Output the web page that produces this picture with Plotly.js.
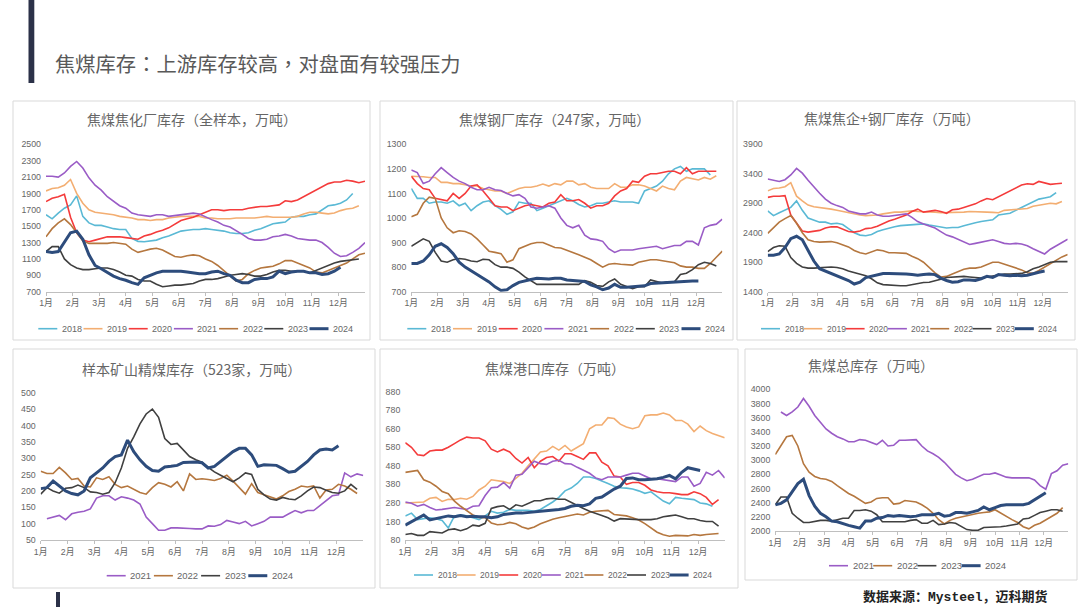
<!DOCTYPE html>
<html><head><meta charset="utf-8">
<script src="https://cdn.plot.ly/plotly-3.0.1.min.js"></script>
<style>html,body{margin:0;padding:0;background:#fff;}#chart{width:1080px;height:607px;}</style>
</head><body><div id="chart"></div>
<script>
// ---------- tick labels / categories ----------
const months = ['1月','2月','3月','4月','5月','6月','7月','8月','9月','10月','11月','12月'];
const pageTitle = '焦煤库存：上游库存较高，对盘面有较强压力';
const sourceNote = '数据来源：Mysteel，迈科期货';

// ---------- panel 1: 焦煤焦化厂库存（全样本，万吨）, weekly ----------
const cokePlant2018 = [1640,1590,1660,1720,1760,1870,1620,1540,1510,1510,1490,1470,1460,1460,1350,1315,1310,1320,1330,1360,1380,1410,1440,1450,1460,1460,1470,1460,1450,1440,1420,1410,1410,1420,1450,1470,1500,1530,1540,1550,1610,1620,1620,1640,1650,1700,1750,1760,1780,1820,1900];
const cokePlant2019 = [1930,1960,1970,2000,2070,1900,1780,1700,1670,1660,1650,1640,1620,1610,1600,1580,1580,1570,1580,1580,1600,1610,1620,1620,1620,1620,1600,1600,1590,1590,1590,1600,1600,1600,1600,1610,1620,1610,1610,1610,1610,1620,1650,1670,1670,1660,1650,1660,1690,1710,1720,1750];
const cokePlant2020 = [1800,1840,1860,1890,1610,1420,1330,1310,1330,1350,1370,1370,1370,1360,1350,1340,1380,1400,1430,1450,1480,1530,1570,1590,1610,1640,1670,1700,1700,1690,1700,1700,1700,1720,1730,1740,1740,1750,1760,1810,1800,1820,1860,1910,1940,1980,2020,2040,2040,2060,2050,2030,2050];
const cokePlant2021 = [2110,2110,2100,2150,2230,2290,2210,2090,2000,1940,1860,1800,1750,1720,1660,1640,1630,1620,1640,1640,1620,1630,1640,1650,1660,1650,1610,1580,1550,1510,1490,1450,1400,1350,1330,1330,1340,1370,1380,1400,1380,1350,1340,1330,1330,1300,1240,1170,1130,1140,1180,1230,1300];
const cokePlant2022 = [1370,1470,1540,1590,1520,1420,1320,1290,1290,1290,1290,1300,1290,1280,1220,1180,1200,1220,1230,1210,1170,1130,1120,1140,1150,1140,1100,1070,1020,960,890,830,850,920,960,990,1000,1010,1040,1080,1080,1050,1020,990,940,930,960,990,1020,1050,1100,1150,1170];
const cokePlant2023 = [1190,1250,1250,1100,1030,990,970,970,980,990,990,970,940,900,890,850,830,830,790,760,770,780,780,790,800,830,850,850,860,880,900,910,920,910,890,890,910,940,960,960,950,950,950,930,960,990,1020,1050,1070,1080,1090,1100];
const cokePlant2024 = [1190,1180,1190,1300,1420,1440,1340,1150,1020,980,930,890,860,840,810,790,870,900,930,950,950,950,950,940,930,920,920,940,950,920,900,840,810,810,850,860,860,880,950,920,940,950,950,930,930,910,920,950,1000];

// ---------- panel 2: 焦煤钢厂库存（247家，万吨） ----------
const steelMill2018 = [1120,1080,1080,1060,1065,1065,1060,1070,1050,1060,1030,1050,1065,1070,1050,1035,1015,1025,1065,1060,1060,1030,1040,1050,1060,1070,1080,1070,1055,1045,1050,1060,1060,1065,1070,1065,1065,1065,1060,1110,1120,1130,1150,1180,1200,1210,1190,1200,1200,1200,1175];
const steelMill2019 = [1170,1170,1168,1165,1165,1145,1145,1140,1140,1135,1130,1130,1120,1115,1110,1110,1100,1110,1120,1125,1125,1130,1138,1130,1140,1135,1150,1150,1135,1140,1125,1120,1120,1120,1140,1125,1125,1135,1135,1130,1120,1110,1130,1120,1115,1150,1165,1160,1155,1165,1158,1172];
const steelMill2020 = [1170,1140,1120,1115,1080,1075,1070,1100,1080,1100,1130,1135,1110,1080,1050,1045,1045,1030,1040,1050,1055,1050,1045,1060,1065,1095,1070,1070,1075,1060,1040,1050,1050,1060,1090,1110,1120,1150,1145,1170,1180,1180,1185,1190,1190,1180,1205,1180,1190,1190,1190,1190];
const steelMill2021 = [1195,1185,1140,1150,1180,1205,1185,1165,1150,1140,1125,1115,1115,1125,1115,1112,1100,1090,1095,1080,1045,1040,1045,1050,1040,1000,970,960,970,930,915,912,905,875,860,870,870,870,875,878,882,885,875,880,888,888,905,905,890,960,970,975,995];
const steelMill2022 = [1005,1015,1060,1085,1080,1000,960,940,948,945,935,915,890,865,860,855,820,830,875,885,895,900,900,890,880,878,870,860,850,840,830,815,800,812,815,812,810,808,820,825,830,830,825,822,818,805,800,800,795,795,815,840,865];
const steelMill2023 = [885,900,915,905,860,825,820,830,835,832,825,822,832,830,810,800,800,795,780,760,745,730,730,730,730,728,728,728,730,745,738,725,722,740,752,730,720,712,720,720,748,740,735,740,740,770,775,790,810,820,815,805];
const steelMill2024 = [815,815,825,850,885,895,880,855,820,800,785,770,758,740,720,705,708,725,738,745,750,755,752,752,755,755,748,745,745,742,728,720,708,715,730,718,718,720,722,724,733,735,735,738,740,742,745,744,744];

// ---------- panel 3: 焦煤焦企+钢厂库存（万吨） ----------
const cokeSteel2018 = [2770,2690,2740,2790,2830,2940,2780,2650,2610,2580,2580,2550,2560,2540,2470,2400,2360,2350,2370,2420,2450,2480,2500,2520,2530,2540,2545,2550,2530,2510,2490,2480,2490,2490,2520,2550,2570,2590,2610,2620,2700,2720,2730,2780,2830,2880,2930,2970,2990,3010,3080];
const cokeSteel2019 = [3110,3150,3160,3180,3250,3020,2940,2870,2840,2830,2820,2800,2780,2760,2730,2710,2700,2690,2690,2700,2720,2740,2750,2750,2760,2770,2760,2760,2750,2750,2740,2740,2740,2745,2750,2760,2760,2755,2750,2745,2740,2780,2790,2800,2800,2810,2850,2870,2880,2900,2890,2930];
const cokeSteel2020 = [3000,3020,3020,3030,2700,2570,2430,2410,2420,2440,2480,2500,2500,2460,2420,2410,2430,2470,2480,2510,2560,2600,2630,2660,2700,2760,2800,2750,2760,2780,2760,2730,2790,2800,2830,2860,2890,2940,2980,2960,3010,3060,3100,3150,3210,3230,3220,3270,3250,3220,3230,3240];
const cokeSteel2021 = [3310,3295,3270,3300,3380,3490,3410,3290,3170,3070,2970,2900,2860,2830,2770,2740,2720,2720,2750,2700,2680,2680,2690,2700,2720,2660,2590,2550,2520,2480,2420,2360,2330,2290,2240,2200,2220,2240,2250,2280,2250,2220,2210,2220,2210,2180,2130,2080,2040,2120,2180,2230,2290];
const cokeSteel2022 = [2390,2490,2580,2640,2690,2560,2400,2280,2250,2240,2250,2250,2230,2200,2160,2100,2060,2040,2080,2110,2095,2060,2060,2060,2050,2000,1960,1900,1810,1720,1650,1660,1700,1740,1780,1800,1800,1820,1860,1900,1900,1870,1840,1810,1770,1720,1710,1760,1820,1880,1940,1990,2030];
const cokeSteel2023 = [2080,2150,2180,2170,1980,1880,1820,1800,1800,1810,1820,1820,1810,1790,1750,1720,1700,1670,1620,1550,1520,1510,1500,1500,1500,1520,1540,1555,1560,1580,1610,1640,1650,1660,1660,1650,1640,1630,1650,1670,1680,1700,1700,1700,1710,1740,1790,1820,1860,1900,1910,1910,1910];
const cokeSteel2024 = [2020,2020,2040,2150,2300,2340,2280,2100,1920,1790,1750,1700,1660,1630,1590,1530,1560,1640,1660,1690,1710,1710,1710,1700,1700,1690,1680,1690,1700,1690,1630,1590,1560,1570,1600,1600,1590,1620,1660,1640,1690,1680,1670,1680,1670,1680,1710,1730,1750];

// ---------- panel 4: 样本矿山精煤库存（523家，万吨） ----------
const mine2021 = [null,115,120,125,112,130,135,138,145,178,185,185,172,182,178,172,160,120,100,80,80,87,87,87,85,84,84,93,92,97,110,105,100,107,93,100,107,120,120,120,130,140,133,140,140,155,168,185,188,255,243,252,247];
const mine2022 = [260,253,253,272,255,235,238,215,212,240,235,243,220,210,215,205,195,190,210,225,220,212,228,200,252,235,237,235,232,238,248,230,210,190,222,195,188,182,175,185,198,205,215,212,215,178,203,205,220,215,205,192];
const mine2023 = [190,210,200,193,208,210,218,210,197,195,190,195,225,270,330,365,405,435,450,425,360,342,345,325,305,295,288,272,258,248,238,228,240,255,250,205,188,175,172,180,175,173,185,200,212,210,202,195,193,200,220,205];
const mine2024 = [207,210,230,215,200,192,188,200,240,255,270,290,305,310,355,320,295,275,262,260,273,275,278,287,288,288,286,270,275,290,305,320,330,330,310,275,280,280,278,268,257,260,275,290,310,325,328,325,338];

// ---------- panel 5: 焦煤港口库存（万吨） ----------
const port2018 = [210,225,190,195,200,195,185,145,210,215,210,200,190,210,235,225,230,245,240,240,240,235,245,265,285,310,345,360,385,420,420,412,400,385,370,362,360,355,345,332,340,315,290,275,310,305,300,298,280,275,262];
const port2019 = [280,282,285,285,305,310,288,300,298,305,300,315,350,370,405,400,395,385,410,440,480,520,555,560,585,565,590,560,580,600,680,700,700,740,735,705,690,680,690,750,755,755,765,755,725,725,705,665,695,670,655,645,632];
const port2020 = [605,580,540,535,560,565,565,580,600,620,635,630,630,615,570,555,570,555,520,495,525,470,505,525,530,505,545,545,530,515,550,550,500,480,425,420,380,390,390,375,350,340,335,335,330,325,325,340,330,310,272,298];
const port2021 = [285,278,262,272,255,242,245,250,255,250,245,262,265,320,362,365,390,360,430,435,470,505,492,488,505,510,492,490,472,455,440,415,405,420,420,420,430,440,440,425,410,410,405,398,395,420,420,370,385,445,430,455,415];
const port2022 = [445,448,455,405,392,370,342,330,290,262,238,215,202,200,172,162,165,175,168,150,140,150,168,182,192,200,208,212,220,215,230,235,236,240,218,215,210,200,188,168,145,122,108,100,105,105,102,110,105,110,112,115];
const port2023 = [110,115,105,105,125,120,118,135,140,130,140,160,155,170,250,260,265,245,270,262,275,292,292,302,305,300,300,282,265,250,235,225,212,200,182,195,192,190,190,190,190,195,205,210,215,205,195,195,185,180,180,155];
const port2024 = [160,178,198,215,188,195,205,210,205,212,205,208,205,205,200,205,218,222,225,225,228,230,235,235,242,245,250,262,268,265,275,305,312,335,355,370,412,415,405,405,408,410,418,428,410,445,470,462,455];

// ---------- panel 6: 焦煤总库存（万吨） ----------
const total2021 = [null,3680,3630,3680,3750,3870,3760,3630,3530,3440,3380,3330,3300,3260,3260,3290,3280,3250,3220,3280,3200,3210,3280,3280,3290,3290,3200,3130,3090,3040,2970,2880,2800,2750,2710,2730,2760,2800,2800,2820,2790,2760,2750,2750,2760,2750,2720,2640,2590,2810,2850,2930,2950];
const total2022 = [3080,3200,3330,3350,3200,2950,2830,2770,2740,2730,2700,2640,2580,2530,2490,2440,2390,2410,2460,2470,2470,2380,2390,2430,2420,2410,2370,2320,2250,2160,2100,2150,2180,2200,2220,2230,2250,2260,2270,2300,2250,2200,2160,2120,2060,2030,2080,2110,2160,2200,2250,2330];
const total2023 = [2370,2480,2480,2250,2180,2120,2120,2140,2150,2150,2140,2160,2180,2180,2290,2290,2300,2280,2230,2130,2130,2140,2130,2130,2150,2160,2110,2110,2150,2090,2100,2120,2110,2070,2020,2010,2010,2050,2050,2060,2060,2070,2080,2100,2170,2180,2220,2260,2280,2300,2300,2280];
const total2024 = [2370,2390,2440,2550,2670,2730,2500,2350,2250,2200,2140,2130,2100,2080,2060,2040,2140,2140,2180,2190,2220,2210,2220,2210,2200,2210,2230,2230,2230,2250,2210,2220,2260,2260,2250,2270,2290,2340,2300,2330,2360,2370,2370,2370,2370,2390,2440,2490,2540];

// ---------- styling / layout ----------
const W = 1080, H = 607;
const WEEKS = 52;
const styles = {
  '2018': {color:'#5AB9D5', width:1.6},
  '2019': {color:'#F3AE72', width:1.6},
  '2020': {color:'#F43B3B', width:1.6},
  '2021': {color:'#9A5CC6', width:1.6},
  '2022': {color:'#B5773F', width:1.6},
  '2023': {color:'#404040', width:1.6},
  '2024': {color:'#2D4C7C', width:3}
};
const tickFont = {family:'Liberation Sans, Noto Sans CJK SC, sans-serif', size:8.8, color:'#666666'};

const panels = [
  {title:'焦煤焦化厂库存（全样本，万吨）', series:[['2018',cokePlant2018],['2019',cokePlant2019],['2020',cokePlant2020],['2021',cokePlant2021],['2022',cokePlant2022],['2023',cokePlant2023],['2024',cokePlant2024]],
   range:[700,2500], dtick:200, x0:46, x1:365, yT:144.3, yB:291.7, tx:191.7, ty:119.3, lx:38.3, lp:45.2, ly:328.7, lf:9, box:[13,101,370,340]},
  {title:'焦煤钢厂库存（247家，万吨）', series:[['2018',steelMill2018],['2019',steelMill2019],['2020',steelMill2020],['2021',steelMill2021],['2022',steelMill2022],['2023',steelMill2023],['2024',steelMill2024]],
   range:[700,1300], dtick:100, x0:411.3, x1:722.3, yT:144.3, yB:291.7, tx:554.7, ty:119.3, lx:407.3, lp:45.7, ly:328.7, lf:9, box:[380,101,733,340]},
  {title:'焦煤焦企+钢厂库存（万吨）', series:[['2018',cokeSteel2018],['2019',cokeSteel2019],['2020',cokeSteel2020],['2021',cokeSteel2021],['2022',cokeSteel2022],['2023',cokeSteel2023],['2024',cokeSteel2024]],
   range:[1400,3900], dtick:500, x0:767.7, x1:1067.7, yT:144.3, yB:291.7, tx:891.7, ty:118.3, lx:761, lp:42.3, ly:328.7, lf:8.5, box:[737,101,1075,340]},
  {title:'样本矿山精煤库存（523家，万吨）', series:[['2021',mine2021],['2022',mine2022],['2023',mine2023],['2024',mine2024]],
   range:[50,500], dtick:50, x0:40.7, x1:363.3, yT:392.7, yB:540, tx:191.3, ty:369, lx:106.7, lp:47.2, ly:575.7, lf:9.5, box:[13,349,375,588]},
  {title:'焦煤港口库存（万吨）', series:[['2018',port2018],['2019',port2019],['2020',port2020],['2021',port2021],['2022',port2022],['2023',port2023],['2024',port2024]],
   range:[80,880], dtick:100, x0:405.3, x1:724.7, yT:391.7, yB:540, tx:555.3, ty:367.7, lx:414, lp:42.6, ly:575, lf:8.5, box:[380,349,738,588]},
  {title:'焦煤总库存（万吨）', series:[['2021',total2021],['2022',total2022],['2023',total2023],['2024',total2024]],
   range:[2000,4000], dtick:200, x0:775.3, x1:1068.3, yT:389.3, yB:531, tx:870.7, ty:365, lx:829, lp:44.2, ly:565.7, lf:9.5, box:[745,349,1077,580]}
];

const px = v => v / W;
const py = v => 1 - v / H;

const traces = [];
const shapes = [];
const annotations = [];
const layout = {
  width: W, height: H, margin:{l:0,r:0,t:0,b:0},
  paper_bgcolor:'#ffffff', plot_bgcolor:'rgba(0,0,0,0)', showlegend:false,
  font:{family:'Noto Sans CJK SC, sans-serif'}
};

const monthTickVals = months.map((m, i) => i * WEEKS / 12);

panels.forEach((p, k) => {
  const sfx = k === 0 ? '' : String(k + 1);
  layout['xaxis' + sfx] = {
    domain:[px(p.x0), px(p.x1)], range:[0, WEEKS], anchor:'y' + sfx,
    tickmode:'array', tickvals:monthTickVals, ticktext:months,
    showline:true, linecolor:'#BFBFBF', linewidth:1, ticks:'outside', ticklen:3, tickcolor:'#BFBFBF',
    showgrid:false, zeroline:false, tickfont:tickFont, fixedrange:true
  };
  layout['yaxis' + sfx] = {
    domain:[py(p.yB), py(p.yT)], range:p.range, anchor:'x' + sfx,
    tickmode:'linear', tick0:p.range[0], dtick:p.dtick,
    showline:false, ticks:'', showgrid:false, zeroline:false, tickfont:tickFont,
    ticklabelstandoff:4, fixedrange:true
  };
  p.series.forEach(([yr, vals]) => {
    const st = styles[yr];
    traces.push({
      type:'scatter', mode:'lines', name:yr,
      x: vals.map((v, i) => i), y: vals,
      xaxis:'x' + sfx, yaxis:'y' + sfx,
      line:{color:st.color, width:st.width}, connectgaps:false, hoverinfo:'skip'
    });
  });
  shapes.push({type:'rect', xref:'paper', yref:'paper', x0:px(p.box[0]), x1:px(p.box[2]), y0:py(p.box[3]), y1:py(p.box[1]),
    line:{color:'#D9D9D9', width:1}, fillcolor:'rgba(0,0,0,0)'});
  annotations.push({xref:'paper', yref:'paper', x:px(p.tx), y:py(p.ty), xanchor:'center', yanchor:'middle',
    text:p.title, showarrow:false, font:{family:'Noto Sans CJK SC', size:14, color:'#666666'}});
  p.series.forEach(([yr], i) => {
    const st = styles[yr];
    const lx = p.lx + i * p.lp;
    shapes.push({type:'line', xref:'paper', yref:'paper', x0:px(lx), x1:px(lx + 19), y0:py(p.ly), y1:py(p.ly),
      line:{color:st.color, width:st.width}});
    annotations.push({xref:'paper', yref:'paper', x:px(lx + 21.5), y:py(p.ly), xanchor:'left', yanchor:'middle',
      text:yr, showarrow:false, font:{family:'Liberation Sans, sans-serif', size:p.lf, color:'#666666'}});
  });
});

shapes.push({type:'rect', xref:'paper', yref:'paper', x0:px(28.5), x1:px(34.3), y0:py(83), y1:py(0), line:{width:0}, fillcolor:'#2B3148'});
shapes.push({type:'rect', xref:'paper', yref:'paper', x0:px(56), x1:px(60), y0:py(607), y1:py(592), line:{width:0}, fillcolor:'#2B3148'});
annotations.push({xref:'paper', yref:'paper', x:px(52.7), y:py(63.3), xanchor:'left', yanchor:'middle', showarrow:false,
  text:pageTitle, font:{family:'Noto Sans CJK TC', size:20.3, color:'#595959'}});
annotations.push({xref:'paper', yref:'paper', x:px(861), y:py(596.7), xanchor:'left', yanchor:'middle', showarrow:false,
  text:'<b>' + sourceNote + '</b>', font:{family:'Liberation Mono, Noto Sans CJK SC', size:13, color:'#222222'}});

layout.shapes = shapes;
layout.annotations = annotations;

Plotly.newPlot('chart', traces, layout, {staticPlot:true, displayModeBar:false});
</script>
</body></html>
